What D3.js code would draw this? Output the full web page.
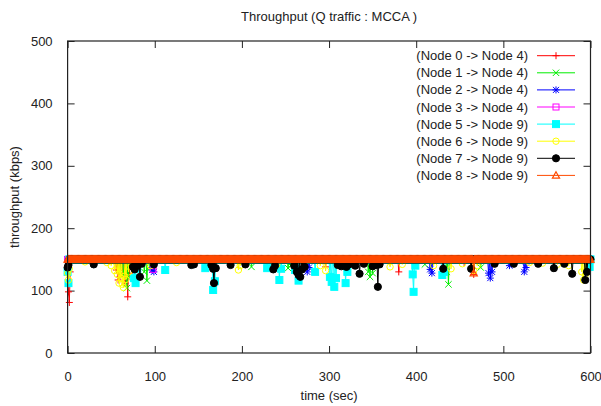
<!DOCTYPE html>
<html><head><meta charset="utf-8">
<script src="https://cdn.jsdelivr.net/npm/d3@7/dist/d3.min.js"></script>
<style>
body{margin:0;background:#fff}
text{font-family:"Liberation Sans",Arial,sans-serif;font-size:13px;fill:#222}
</style>
</head><body>
<svg id="c" width="601" height="406"></svg>
<script>
// ---- data ----
const title = "Throughput (Q traffic : MCCA )";
const xLabel = "time (sec)";
const yLabel = "throughput (kbps)";
const xTicks = [0, 100, 200, 300, 400, 500, 600];
const yTicks = [0, 100, 200, 300, 400, 500];
const seriesNames = ["(Node 0 -> Node 4)", "(Node 1 -> Node 4)", "(Node 2 -> Node 4)", "(Node 3 -> Node 4)",
                     "(Node 5 -> Node 9)", "(Node 6 -> Node 9)", "(Node 7 -> Node 9)", "(Node 8 -> Node 9)"];
const seriesColors = ["#ff0000", "#00ee00", "#0000ff", "#ff00ff", "#00ffff", "#ffff00", "#000000", "#ff4a00"];
const seriesMarkers = ["plus", "cross", "star", "square", "fsquare", "circle", "fcircle", "triangle"];
// steady throughput level (kbps) and sampling interval (sec) of the trace
const baseline = 150;
const sampleStep = 1;
const duration = 600;
// [time, kbps] samples that fall below the steady level
const dips0 = [[1,98],[2,81],[3,130],[56,133],[58,117],[60,122],[63,128],[66,112],[69,90],[71,128],[98,136],[296,138],[380,130],[455,145],[466,126]];
const dips1 = [[60,135],[64,125],[68,104],[70,120],[72,138],[88,130],[91,116],[94,135],[211,138],[253,136],[256,140],[345,130],[347,122],[350,128],[410,142],[435,130],[437,110],[474,137]];
const dips2 = [[97,133],[99,130],[275,130],[277,137],[416,134],[418,128],[483,128],[485,120],[487,130],[507,140],[524,130],[526,137],[598,142]];
const dips3 = [[98,134]];
const dips5 = [[0,130],[1,112],[76,120],[78,112],[80,135],[112,133],[158,136],[167,101],[169,115],[229,136],[243,117],[245,135],[261,133],[265,116],[284,130],[301,122],[303,114],[306,106],[308,120],[319,112],[321,130],[396,126],[397,98],[399,140],[430,125],[432,130],[599,138]];
const dips6 = [[0,128],[1,117],[2,135],[20,146],[45,145],[50,140],[54,132],[57,126],[59,112],[61,120],[63,110],[64,105],[65,123],[67,118],[70,130],[73,140],[95,140],[125,145],[196,133],[198,140],[240,142],[290,140],[296,132],[370,138],[384,142],[420,140],[440,135],[453,143],[466,132],[470,140],[530,145],[545,144],[562,142],[575,140],[590,130],[592,117],[594,125]];
const dips7 = [[0,137],[1,141],[30,142],[75,138],[77,134],[80,140],[83,122],[85,143],[99,142],[142,141],[145,142],[165,141],[167,135],[168,112],[170,136],[187,141],[204,142],[236,134],[238,140],[260,140],[263,130],[265,125],[267,122],[269,134],[272,138],[310,141],[314,139],[316,141],[320,138],[323,142],[330,140],[335,127],[340,143],[350,139],[354,141],[356,106],[358,142],[431,135],[463,135],[490,143],[512,143],[540,143],[558,136],[570,143],[579,127],[594,117],[596,130]];
const dips8 = [[466,128]];
const seriesDips = [dips0, dips1, dips2, dips3, dips5, dips6, dips7, dips8];

// ---- build the traces ----
function buildTrace(dips) {
  const m = new Map(dips.map(d => [d[0], d[1]]));
  const times = Array.from(new Set(d3.range(0, duration + 1, sampleStep).concat(dips.map(d => d[0])))).sort((a, b) => a - b);
  return times.map(t => ({t, v: m.has(t) ? m.get(t) : baseline}));
}
const traces = seriesDips.map(buildTrace);

// ---- layout ----
const svg = d3.select("#c");
const L = 67.6, R = 590.5, T = 41, B = 353;
const x = d3.scaleLinear().domain([0, 600]).range([L, R]);
const y = d3.scaleLinear().domain([0, 500]).range([B, T]);

svg.append("rect").attr("width", 601).attr("height", 406).attr("fill", "#fff");

// axes with inward ticks
const gx = svg.append("g").attr("transform", `translate(0,${B})`)
  .call(d3.axisBottom(x).tickValues(xTicks).tickSizeInner(-7).tickSizeOuter(0).tickPadding(19));
const gxt = svg.append("g").attr("transform", `translate(0,${T})`)
  .call(d3.axisTop(x).tickValues(xTicks).tickSizeInner(-7).tickSizeOuter(0).tickFormat(""));
const gy = svg.append("g").attr("transform", `translate(${L},0)`)
  .call(d3.axisLeft(y).tickValues(yTicks).tickSizeInner(-7).tickSizeOuter(0).tickPadding(15));
const gyr = svg.append("g").attr("transform", `translate(${R},0)`)
  .call(d3.axisRight(y).tickValues(yTicks).tickSizeInner(-7).tickSizeOuter(0).tickFormat(""));
[gx, gxt, gy, gyr].forEach(g => {
  g.select(".domain").remove();
  g.selectAll(".tick line").attr("stroke", "#222").attr("stroke-width", 1);
  g.selectAll("text").attr("font-family", null).attr("font-size", null).attr("fill", "#222");
});

// markers
function marker(sel, type, color) {
  const s = 3.5;
  sel.each(function () {
    const g = d3.select(this);
    if (type === "plus" || type === "star") {
      g.append("path").attr("d", `M${-s},0H${s}M0,${-s}V${s}`).attr("stroke", color).attr("fill", "none");
    }
    if (type === "cross" || type === "star") {
      const c = type === "star" ? 3 : 3.2;
      g.append("path").attr("d", `M${-c},${-c}L${c},${c}M${-c},${c}L${c},${-c}`).attr("stroke", color).attr("fill", "none");
    }
    if (type === "square") g.append("rect").attr("x", -3).attr("y", -3).attr("width", 6).attr("height", 6).attr("fill", "none").attr("stroke", color);
    if (type === "fsquare") g.append("rect").attr("x", -3.5).attr("y", -3.5).attr("width", 7).attr("height", 7).attr("fill", color).attr("stroke", color);
    if (type === "circle") g.append("circle").attr("r", 3.2).attr("fill", "none").attr("stroke", color);
    if (type === "fcircle") g.append("circle").attr("r", 3.6).attr("fill", color).attr("stroke", color);
    if (type === "triangle") g.append("path").attr("d", "M0,-3.6L3.6,2.8L-3.6,2.8Z").attr("fill", "none").attr("stroke", color).attr("stroke-width", 1.2);
  });
}

// series
const line = d3.line().x(d => x(d.t)).y(d => y(d.v));
const plot = svg.append("g");
traces.forEach((tr, i) => {
  const g = plot.append("g");
  g.append("path").datum(tr).attr("d", line).attr("fill", "none").attr("stroke", seriesColors[i]).attr("stroke-width", 1);
  g.selectAll("g.pt").data(tr).join("g").attr("class", "pt")
    .attr("transform", d => `translate(${x(d.t)},${y(d.v)})`)
    .call(marker, seriesMarkers[i], seriesColors[i]);
});

// frame
svg.append("rect").attr("x", L).attr("y", T).attr("width", R - L).attr("height", B - T)
  .attr("fill", "none").attr("stroke", "#222").attr("stroke-width", 1.2);

// legend
const lg = svg.append("g");
seriesNames.forEach((n, i) => {
  const yy = 55.7 + i * 17.1;
  lg.append("text").attr("x", 528).attr("y", yy).attr("dy", "0.35em").attr("text-anchor", "end").text(n);
  lg.append("line").attr("x1", 537).attr("x2", 575).attr("y1", yy).attr("y2", yy).attr("stroke", seriesColors[i]);
  lg.append("g").attr("transform", `translate(556,${yy})`).call(marker, seriesMarkers[i], seriesColors[i]);
});

// titles
svg.append("text").attr("x", (L + R) / 2).attr("y", 21).attr("text-anchor", "middle").text(title);
svg.append("text").attr("x", (L + R) / 2).attr("y", 400).attr("text-anchor", "middle").text(xLabel);
svg.append("text").attr("transform", `translate(19,${(T + B) / 2}) rotate(-90)`).attr("text-anchor", "middle").text(yLabel);
</script>
</body></html>
